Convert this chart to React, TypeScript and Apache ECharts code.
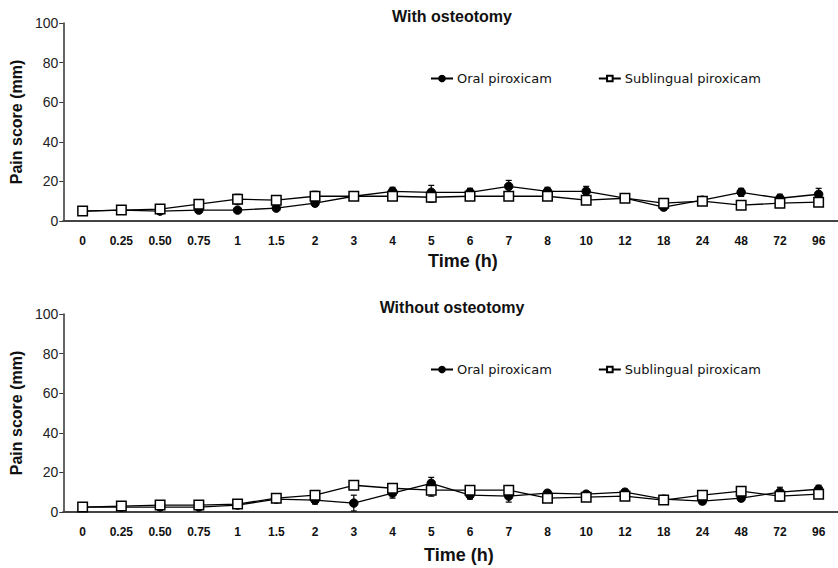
import React, { useEffect, useRef } from "react";
import * as echarts from "echarts";

const categories = ["0", "0.25", "0.50", "0.75", "1", "1.5", "2", "3", "4", "5", "6", "7", "8", "10", "12", "18", "24", "48", "72", "96"];

const topOral = [5, 5.5, 5, 5.5, 5.5, 6.5, 9, 12.5, 15, 14.5, 14.5, 17.5, 15, 15, 11.5, 7, 10.5, 14.5, 11.5, 13.5];
const topOralErr = [1, 1, 1, 1, 1, 1, 1.5, 1.5, 2, 3.5, 2, 3, 2, 2.5, 1.5, 1.5, 1.5, 2, 2, 3];
const topSub = [5, 5.5, 6, 8.5, 11, 10.5, 12.5, 12.5, 12.5, 12, 12.5, 12.5, 12.5, 10.5, 11.5, 9, 10, 8, 9, 9.5];
const topSubErr = [1.5, 1, 1, 1.5, 2.5, 1.5, 2.5, 1.5, 1.5, 2.5, 1.5, 1.5, 1.5, 1.5, 1, 1, 1.5, 1, 1.5, 2];

const botOral = [2.5, 2.5, 2.5, 2.5, 3.5, 6.5, 6, 4.5, 9.5, 14.5, 8.5, 8, 9.5, 9, 10, 6.5, 5.5, 7, 10, 11.5];
const botOralErr = [0.5, 0.5, 0.5, 0.5, 1, 1.5, 2, 4, 2.5, 3, 2, 3, 1.5, 1.5, 1.5, 1, 1.5, 1.5, 2.5, 2];
const botSub = [2.5, 3, 3.5, 3.5, 4, 7, 8.5, 13.5, 12, 11, 11, 11, 7, 7.5, 8, 6, 8.5, 10.5, 8, 9];
const botSubErr = [0.5, 1, 1, 1, 1.5, 1.5, 2, 1.5, 1.5, 3, 2, 2, 1.5, 1.5, 1.5, 1, 1.5, 1.5, 2.5, 2];

const panelTitles = ["With osteotomy", "Without osteotomy"];
const seriesNames = ["Oral piroxicam", "Sublingual piroxicam"];

const FONT = "Liberation Sans, Arial, sans-serif";
const LEGEND_FONT = "DejaVu Sans, Verdana, sans-serif";

function errData(vals: number[], errs: number[]) {
  return vals.map((v, i) => [i, v - errs[i], v + errs[i]]);
}

function errSeries(idx: number, vals: number[], errs: number[]) {
  return {
    type: "custom",
    xAxisIndex: idx,
    yAxisIndex: idx,
    z: 1,
    silent: true,
    data: errData(vals, errs),
    renderItem: (params: any, api: any) => {
      const x = api.value(0);
      const lo = api.coord([x, api.value(1)]);
      const hi = api.coord([x, api.value(2)]);
      const cap = 3;
      const style = { stroke: "#000", lineWidth: 1.2 };
      return {
        type: "group",
        children: [
          { type: "line", shape: { x1: lo[0], y1: lo[1], x2: hi[0], y2: hi[1] }, style },
          { type: "line", shape: { x1: hi[0] - cap, y1: hi[1], x2: hi[0] + cap, y2: hi[1] }, style },
          { type: "line", shape: { x1: lo[0] - cap, y1: lo[1], x2: lo[0] + cap, y2: lo[1] }, style },
        ],
      };
    },
  };
}

function lineSeries(idx: number, name: string, vals: number[], oral: boolean) {
  return {
    type: "line",
    name,
    xAxisIndex: idx,
    yAxisIndex: idx,
    z: 3,
    data: vals,
    symbol: oral ? "circle" : "rect",
    symbolSize: oral ? 8.5 : 9.5,
    showAllSymbol: true,
    lineStyle: { color: "#000", width: 1.3 },
    itemStyle: oral
      ? { color: "#000", borderColor: "#000", borderWidth: 1 }
      : { color: "#fff", borderColor: "#000", borderWidth: 1.5 },
  };
}

export default function App() {
  const ref = useRef<HTMLDivElement>(null);
  useEffect(() => {
    if (!ref.current) return;
    const chart = echarts.init(ref.current, null, { renderer: "svg" });
    const grids = [
      { left: 62, right: -11, top: 23, height: 198 },
      { left: 61, right: -1.5, top: 314, height: 198 },
    ];
    const xAxes = grids.map((_, i) => ({
      type: "category",
      gridIndex: i,
      data: categories,
      boundaryGap: true,
      axisLine: { lineStyle: { color: "#444", width: 2 } },
      axisTick: { show: false },
      axisLabel: { color: "#111", fontFamily: FONT, fontWeight: "bold", fontSize: 12, margin: 14, interval: 0 },
      splitLine: { show: false },
    }));
    const yAxes = grids.map((_, i) => ({
      type: "value",
      gridIndex: i,
      min: 0,
      max: 100,
      interval: 20,
      name: "Pain score (mm)",
      nameLocation: "middle",
      nameGap: 38,
      nameTextStyle: { color: "#111", fontFamily: FONT, fontWeight: "bold", fontSize: 16 },
      axisLine: { show: true, lineStyle: { color: "#333", width: 1.5 } },
      axisTick: { show: true, length: 4, lineStyle: { color: "#333" } },
      axisLabel: { color: "#222", fontFamily: FONT, fontSize: 14, margin: 5 },
      splitLine: { show: false },
    }));
    const titleStyle = { fontFamily: FONT, fontWeight: "bold", fontSize: 16, color: "#111" };
    const option: any = {
      animation: false,
      backgroundColor: "#fff",
      title: [
        { text: panelTitles[0], left: 447, top: 3, textAlign: "center", textStyle: titleStyle },
        { text: panelTitles[1], left: 447, top: 294, textAlign: "center", textStyle: titleStyle },
      ],
      legend: [0, 1].map((i) => ({
        data: seriesNames,
        left: 425,
        top: i === 0 ? 67 : 358,
        itemWidth: 22,
        itemHeight: 7,
        itemGap: 46,
        textStyle: { fontFamily: LEGEND_FONT, fontSize: 13, color: "#111", padding: [0, 0, 0, -1] },
      })),
      grid: grids,
      xAxis: xAxes,
      yAxis: yAxes,
      graphic: [
        { type: "text", left: 428, top: 252, style: { text: "Time (h)", fontFamily: FONT, fontWeight: "bold", fontSize: 18, fill: "#111" } },
        { type: "text", left: 424, top: 546, style: { text: "Time (h)", fontFamily: FONT, fontWeight: "bold", fontSize: 18, fill: "#111" } },
      ],
      series: [
        errSeries(0, topOral, topOralErr),
        errSeries(0, topSub, topSubErr),
        lineSeries(0, seriesNames[0], topOral, true),
        lineSeries(0, seriesNames[1], topSub, false),
        errSeries(1, botOral, botOralErr),
        errSeries(1, botSub, botSubErr),
        lineSeries(1, seriesNames[0], botOral, true),
        lineSeries(1, seriesNames[1], botSub, false),
      ],
    };
    chart.setOption(option);
    return () => chart.dispose();
  }, []);
  return <div ref={ref} style={{ width: 838, height: 568, position: "absolute", left: 0, top: 0 }} />;
}
